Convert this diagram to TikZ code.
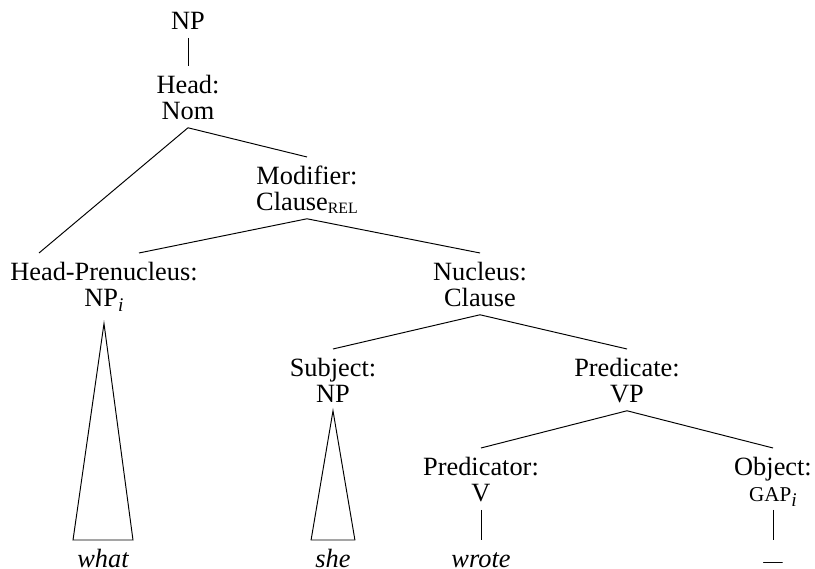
\documentclass[tikz,border=0pt]{standalone}
\usepackage{fontspec}
\setmainfont{Liberation Serif}
\newcommand{\twoline}[2]{\rule{0pt}{15.5pt}#1\\#2\strut}

\begin{document}
\begin{tikzpicture}[
    lab/.style={inner sep=0pt, anchor=north, align=center, font=\fontsize{15}{14.7}\selectfont},
    leaf/.style={inner xsep=2.2pt, inner ysep=0pt, anchor=north, font=\fontsize{15}{14.7}\selectfont\itshape},
    line width=0.55pt]
    \useasboundingbox (0,0) rectangle (16.3,11.38);

    % top of the tree
    \node[lab] (np) at (3.76,11.34) {\rule{0pt}{15.5pt}NP\strut};
    \node[lab] (head) at (3.76,10.06) {\twoline{Head:}{Nom}};
    \node[lab] (mod) at (6.14,8.24) {\twoline{Modifier:}{Clause\raisebox{-1.5pt}{\fontsize{9}{9}\selectfont REL}}};

    % middle
    \node[lab] (hp) at (2.08,6.32) {\twoline{Head-Prenucleus:}{NP\raisebox{-3pt}{\fontsize{11}{11}\selectfont\itshape i}}};
    \node[lab] (nuc) at (9.6,6.32) {\twoline{Nucleus:}{Clause}};
    \node[lab] (subj) at (6.66,4.40) {\twoline{Subject:}{NP}};
    \node[lab] (pred) at (12.54,4.40) {\twoline{Predicate:}{VP}};
    \node[lab] (predr) at (9.62,2.42) {\twoline{Predicator:}{V}};
    \node[lab] (obj) at (15.46,2.42) {\twoline{Object:}{{\fontsize{12}{12}\selectfont GAP}\raisebox{-3pt}{\fontsize{11}{11}\selectfont\itshape i}}};

    % words
    \node[leaf] (what) at (2.06,0.58) {\rule{0pt}{15.5pt}what};
    \node[leaf] (she) at (6.66,0.58) {\rule{0pt}{15.5pt}she};
    \node[leaf] (wrote) at (9.62,0.58) {\rule{0pt}{15.5pt}wrote};
    \node[leaf, font=\fontsize{11}{11}\selectfont] (gap) at (15.46,0.58) {\rule{0pt}{15.5pt}—};

    % branches
    \draw (np.south) -- (head.north);
    \draw (head.south) -- ([xshift=-1.3cm]hp.north);
    \draw (head.south) -- (mod.north);
    \draw (mod.south) -- ([xshift=0.7cm]hp.north);
    \draw (mod.south) -- (nuc.north);
    \draw (nuc.south) -- (subj.north);
    \draw (nuc.south) -- (pred.north);
    \draw (pred.south) -- (predr.north);
    \draw (pred.south) -- (obj.north);
    \draw (predr.south) -- (wrote.north);
    \draw (obj.south) -- (gap.north);

    % triangles
    \draw ([yshift=-5pt]hp.south) -- (what.north west) -- (what.north east) -- cycle;
    \draw (subj.south) -- (she.north west) -- (she.north east) -- cycle;
\end{tikzpicture}
\end{document}
